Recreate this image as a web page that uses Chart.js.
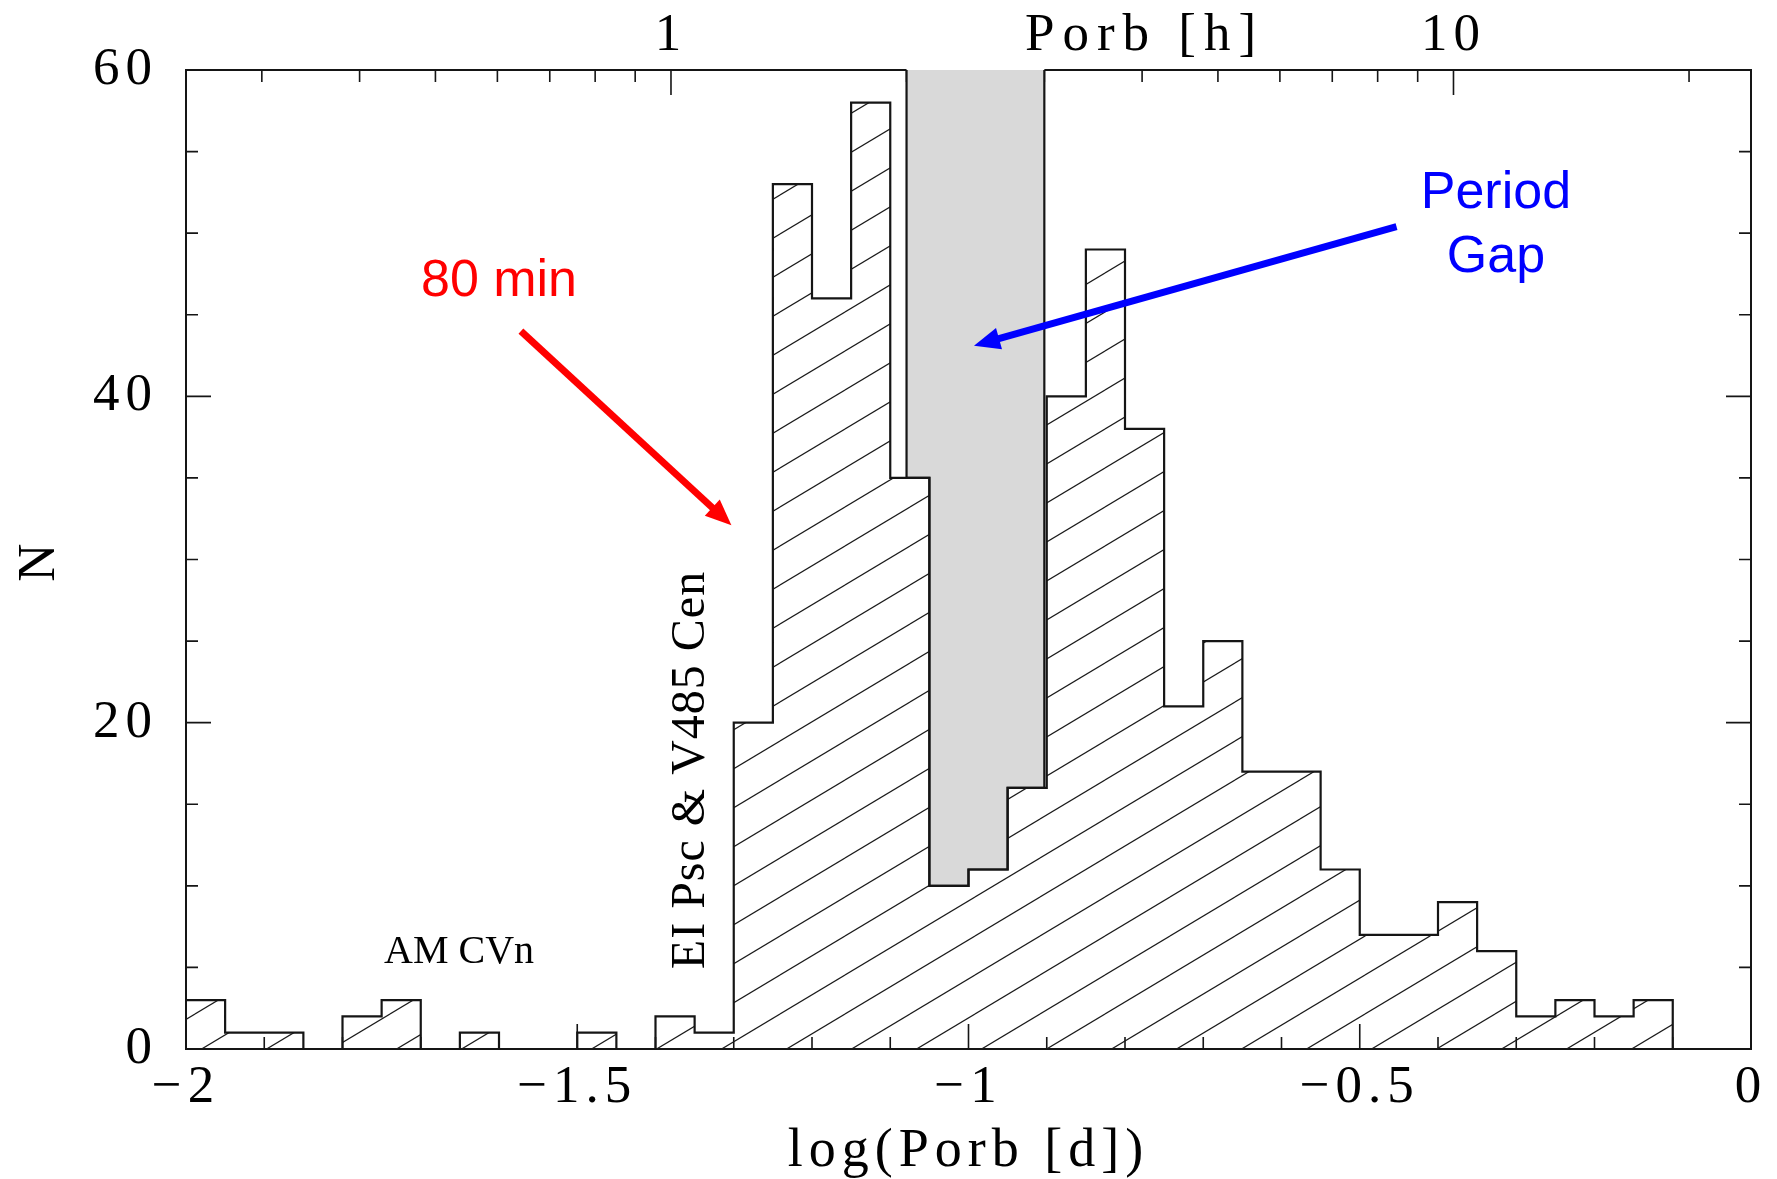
<!DOCTYPE html>
<html>
<head>
<meta charset="utf-8">
<title>CV orbital period distribution</title>
<script src="https://cdn.jsdelivr.net/npm/chart.js@4.4.1/dist/chart.umd.min.js"></script>
<style>
    html, body { margin: 0; padding: 0; background: #fff; }
    #periodChart { display: block; }
</style>
</head>
<body>
<canvas id="periodChart" width="1777" height="1179"></canvas>
<script>
// left edges of the 0.05 dex bins in log(Porb [d])
const binEdges = [
    -2.00, -1.95, -1.90, -1.85, -1.80, -1.75, -1.70, -1.65, -1.60, -1.55,
    -1.50, -1.45, -1.40, -1.35, -1.30, -1.25, -1.20, -1.15, -1.10, -1.05,
    -1.00, -0.95, -0.90, -0.85, -0.80, -0.75, -0.70, -0.65, -0.60, -0.55,
    -0.50, -0.45, -0.40, -0.35, -0.30, -0.25, -0.20, -0.15, -0.10, -0.05
];
const binCounts = [
    3, 1, 1, 0, 2, 3, 0, 1, 0, 0,
    1, 0, 2, 1, 20, 53, 46, 58, 35, 10,
    11, 16, 40, 49, 38, 21, 25, 17, 17, 11,
    7, 7, 9, 6, 2, 3, 2, 3, 0, 0
];
const lastEdge = 0.0;

// period gap, in hours
const gapHours = [2, 3];

// bottom axis ticks
const xTicks = [-2.0, -1.9, -1.8, -1.7, -1.6, -1.5, -1.4, -1.3, -1.2, -1.1, -1.0,
    -0.9, -0.8, -0.7, -0.6, -0.5, -0.4, -0.3, -0.2, -0.1, 0.0];
const xLabels = ['−2', '', '', '', '', '−1.5', '', '', '', '', '−1',
    '', '', '', '', '−0.5', '', '', '', '', '0'];

// top axis ticks, Porb in hours
const topHours = [0.3, 0.4, 0.5, 0.6, 0.7, 0.8, 0.9, 1, 2, 3, 4, 5, 6, 7, 8, 9, 10, 20];
const topLabels = ['', '', '', '', '', '', '', '1', '', '', '', '', '', '', '', '', '10', ''];

// left / right axis ticks
const yTicks = [0, 5, 10, 15, 20, 25, 30, 35, 40, 45, 50, 55, 60];
const yLabels = ['0', '', '', '', '20', '', '', '', '40', '', '', '', '60'];
const yMax = 60;

const serifFont = "'Liberation Serif', 'DejaVu Serif', serif";
const sansFont = "'Liberation Sans', Arial, sans-serif";
const inkColor = '#151515';

const textNotes = [
    { text: '80 min', x: -1.600, y: 47.0, color: '#ff0000', font: '52px ' + sansFont },
    { text: 'Period', x: -0.326, y: 52.4, color: '#0000ff', font: '52px ' + sansFont },
    { text: 'Gap', x: -0.326, y: 48.5, color: '#0000ff', font: '52px ' + sansFont },
    { text: 'AM CVn', x: -1.651, y: 5.9, color: '#000', font: '40px ' + serifFont },
    { text: 'EI Psc & V485 Cen', x: -1.354, y: 17.1, color: '#000', font: '48px ' + serifFont, vertical: true }
];
const arrowNotes = [
    { from: [-1.572, 44.0], to: [-1.303, 32.1], color: '#ff0000' },
    { from: [-0.453, 50.4], to: [-0.993, 43.1], color: '#0000ff' }
];

function toHourLog(h) {
    return Math.log10(h / 24);
}

function histogramPoints() {
    const pts = binEdges.map((x, i) => ({ x: x, y: binCounts[i] }));
    pts.push({ x: lastEdge, y: 0 });
    return pts;
}

function countAt(x) {
    let c = 0;
    binEdges.forEach((e, i) => {
        if (e <= x + 1e-9) c = binCounts[i];
    });
    return c;
}

function gapPoints() {
    const lo = toHourLog(gapHours[0]);
    const hi = toHourLog(gapHours[1]);
    const pts = [{ x: lo, y: yMax }, { x: lo, y: countAt(lo) }];
    binEdges.forEach((e, i) => {
        if (e > lo && e < hi) pts.push({ x: e, y: binCounts[i] });
    });
    pts.push({ x: hi, y: countAt(hi) });
    pts.push({ x: hi, y: yMax });
    return pts;
}

function makeHatch() {
    const w = 65, h = 39;
    const tile = document.createElement('canvas');
    tile.width = w;
    tile.height = h;
    const c = tile.getContext('2d');
    c.strokeStyle = '#1a1a1a';
    c.lineWidth = 1.2;
    [[0, 0], [w, 0], [-w, 0], [0, h], [0, -h]].forEach(([dx, dy]) => {
        c.beginPath();
        c.moveTo(dx, h + dy);
        c.lineTo(w + dx, dy);
        c.stroke();
    });
    return c.createPattern(tile, 'repeat');
}

// frame and inward tick marks on all four sides
const frameAndTicks = {
    id: 'frameAndTicks',
    beforeDraw(chart) {
        chart.ctx.letterSpacing = '6px';
    },
    beforeDatasetsDraw(chart) {
        const { ctx, chartArea: a, scales } = chart;
        const gapLo = scales.x.getPixelForValue(toHourLog(gapHours[0]));
        const gapHi = scales.x.getPixelForValue(toHourLog(gapHours[1]));
        const majorLen = 25, minorLen = 12;

        ctx.save();
        ctx.strokeStyle = inkColor;
        ctx.lineWidth = 2;
        ctx.beginPath();
        ctx.moveTo(gapLo, a.top);
        ctx.lineTo(a.left, a.top);
        ctx.lineTo(a.left, a.bottom);
        ctx.lineTo(a.right, a.bottom);
        ctx.lineTo(a.right, a.top);
        ctx.lineTo(gapHi, a.top);
        ctx.stroke();

        ctx.lineWidth = 1.6;
        ctx.beginPath();
        scales.x.ticks.forEach(t => {
            const px = scales.x.getPixelForValue(t.value);
            const len = t.label ? majorLen : minorLen;
            ctx.moveTo(px, a.bottom);
            ctx.lineTo(px, a.bottom - len);
        });
        scales.xTop.ticks.forEach(t => {
            const px = scales.xTop.getPixelForValue(t.value);
            const len = t.label ? majorLen : minorLen;
            ctx.moveTo(px, a.top);
            ctx.lineTo(px, a.top + len);
        });
        scales.y.ticks.forEach(t => {
            const py = scales.y.getPixelForValue(t.value);
            const len = t.label ? majorLen : minorLen;
            ctx.moveTo(a.left, py);
            ctx.lineTo(a.left + len, py);
            ctx.moveTo(a.right, py);
            ctx.lineTo(a.right - len, py);
        });
        ctx.stroke();
        ctx.restore();
    }
};

function drawArrow(ctx, x1, y1, x2, y2, color) {
    const ang = Math.atan2(y2 - y1, x2 - x1);
    const headLen = 26, headHalf = 11;
    const bx = x2 - headLen * Math.cos(ang);
    const by = y2 - headLen * Math.sin(ang);
    ctx.strokeStyle = color;
    ctx.fillStyle = color;
    ctx.lineWidth = 7;
    ctx.lineCap = 'butt';
    ctx.beginPath();
    ctx.moveTo(x1, y1);
    ctx.lineTo(bx + 2 * Math.cos(ang), by + 2 * Math.sin(ang));
    ctx.stroke();
    ctx.beginPath();
    ctx.moveTo(x2, y2);
    ctx.lineTo(bx + headHalf * Math.sin(ang), by - headHalf * Math.cos(ang));
    ctx.lineTo(bx - headHalf * Math.sin(ang), by + headHalf * Math.cos(ang));
    ctx.closePath();
    ctx.fill();
}

const annotations = {
    id: 'annotations',
    afterDatasetsDraw(chart) {
        const { ctx, chartArea, scales: { x, y, xTop } } = chart;
        ctx.save();
        ctx.textAlign = 'center';
        ctx.textBaseline = 'middle';

        // top axis title
        ctx.letterSpacing = '8px';
        ctx.font = '53px ' + serifFont;
        ctx.fillStyle = '#000';
        ctx.fillText('Porb [h]', xTop.getPixelForValue(-0.775), chartArea.top - 34);

        ctx.letterSpacing = '0px';
        textNotes.forEach(n => {
            const px = x.getPixelForValue(n.x);
            const py = y.getPixelForValue(n.y);
            ctx.font = n.font;
            ctx.fillStyle = n.color;
            if (n.vertical) {
                ctx.save();
                ctx.translate(px, py);
                ctx.rotate(-Math.PI / 2);
                ctx.letterSpacing = '1px';
                ctx.fillText(n.text, 0, 0);
                ctx.restore();
            } else {
                ctx.fillText(n.text, px, py);
            }
        });

        arrowNotes.forEach(a => {
            drawArrow(ctx,
                x.getPixelForValue(a.from[0]), y.getPixelForValue(a.from[1]),
                x.getPixelForValue(a.to[0]), y.getPixelForValue(a.to[1]),
                a.color);
        });
        ctx.restore();
    }
};

const tickFont = { family: serifFont, size: 53 };

new Chart(document.getElementById('periodChart'), {
    type: 'line',
    data: {
        datasets: [
            {
                label: 'CVs',
                data: histogramPoints(),
                stepped: true,
                borderColor: inkColor,
                borderWidth: 2.2,
                backgroundColor: makeHatch(),
                fill: 'origin',
                pointRadius: 0
            },
            {
                label: 'Period gap',
                data: gapPoints(),
                stepped: true,
                borderColor: inkColor,
                borderWidth: 2.2,
                backgroundColor: '#d9d9d9',
                fill: 'end',
                pointRadius: 0
            }
        ]
    },
    options: {
        responsive: false,
        animation: false,
        devicePixelRatio: 1,
        layout: { padding: { left: 0, right: 26, top: 0, bottom: 0 } },
        plugins: {
            legend: { display: false },
            tooltip: { enabled: false }
        },
        scales: {
            x: {
                type: 'linear',
                position: 'bottom',
                min: -2,
                max: 0,
                afterBuildTicks: s => { s.ticks = xTicks.map(v => ({ value: v })); },
                afterFit: s => { s.height = 130; },
                grid: { display: false, drawTicks: false },
                border: { display: false },
                ticks: {
                    callback: (v, i) => xLabels[i],
                    autoSkip: false,
                    maxRotation: 0,
                    padding: 7,
                    color: '#000',
                    font: tickFont
                },
                title: {
                    display: true,
                    text: 'log(Porb [d])',
                    color: '#000',
                    font: { family: serifFont, size: 54, lineHeight: 1.0 },
                    padding: { top: 0, bottom: 0 }
                }
            },
            xTop: {
                type: 'linear',
                position: 'top',
                min: -2,
                max: 0,
                afterBuildTicks: s => { s.ticks = topHours.map(h => ({ value: toHourLog(h) })); },
                afterFit: s => { s.height = 70; },
                grid: { display: false, drawTicks: false },
                border: { display: false },
                ticks: {
                    callback: (v, i) => topLabels[i],
                    autoSkip: false,
                    maxRotation: 0,
                    padding: 2,
                    color: '#000',
                    font: tickFont
                }
            },
            y: {
                type: 'linear',
                position: 'left',
                min: 0,
                max: yMax,
                afterBuildTicks: s => { s.ticks = yTicks.map(v => ({ value: v })); },
                afterFit: s => { s.width = 186; },
                grid: { display: false, drawTicks: false },
                border: { display: false },
                ticks: {
                    callback: (v, i) => yLabels[i],
                    autoSkip: false,
                    padding: 28,
                    color: '#000',
                    font: tickFont
                },
                title: {
                    display: true,
                    text: 'N',
                    color: '#000',
                    font: tickFont,
                    padding: { top: 8, bottom: 0 }
                }
            }
        }
    },
    plugins: [frameAndTicks, annotations]
});
</script>
</body>
</html>
